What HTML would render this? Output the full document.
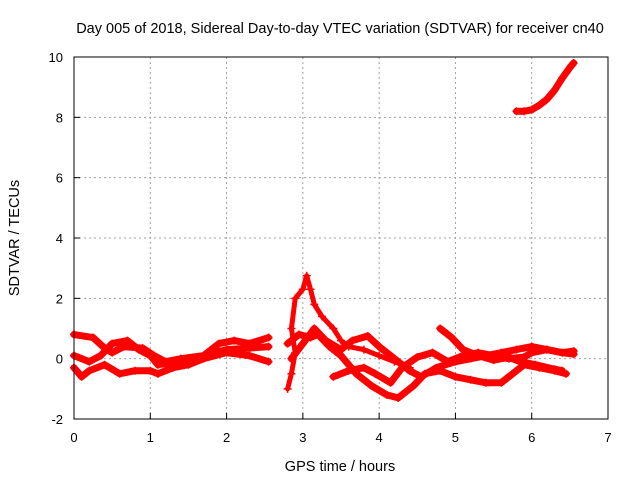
<!DOCTYPE html>
<html><head><meta charset="utf-8"><style>
body{margin:0;background:#fff}
svg{display:block;font-family:"Liberation Sans",sans-serif}
</style></head><body>
<svg id="c" width="640" height="480">
<text x="340" y="33" font-size="14.5" text-anchor="middle">Day 005 of 2018, Sidereal Day-to-day VTEC variation (SDTVAR) for receiver cn40</text>
<text x="340" y="471" font-size="14.5" text-anchor="middle">GPS time / hours</text>
<text transform="translate(19,238) rotate(-90)" font-size="14.5" text-anchor="middle">SDTVAR / TECUs</text>
<g id="grid"></g><g id="series"></g>
<rect x="74" y="57" width="534" height="362" fill="none" stroke="#000"/>
</svg>
<script>
const xTicks=[0,1,2,3,4,5,6,7];
const yTicks=[-2,0,2,4,6,8,10];
const sA=[[0,0.8],[0.25,0.7],[0.4,0.35],[0.5,0.2],[0.65,0.4],[0.9,0.35],[1.05,0.1],[1.2,-0.1],[1.4,0],[1.7,0.1],[2.0,0.3],[2.3,0.35],[2.55,0.4]];
const sB=[[0,0.1],[0.2,-0.1],[0.35,0.1],[0.5,0.5],[0.7,0.6],[0.85,0.3],[1.0,0.1],[1.1,-0.2],[1.4,-0.1],[1.7,0.1],[1.9,0.5],[2.1,0.6],[2.3,0.5],[2.55,0.7]];
const sC=[[0,-0.3],[0.1,-0.6],[0.2,-0.4],[0.4,-0.2],[0.6,-0.5],[0.8,-0.4],[1.0,-0.4],[1.1,-0.5],[1.3,-0.3],[1.5,-0.2],[1.7,0],[2.0,0.2],[2.3,0.1],[2.55,-0.1]];
const sSpike=[[2.8,-1.0],[2.85,-0.5],[2.9,0.2],[2.85,1.0],[2.9,2.0],[3.0,2.3],[3.05,2.75],[3.1,2.3],[3.15,1.8],[3.25,1.4],[3.4,1.0],[3.5,0.6],[3.6,0.4],[3.8,0.3],[4.0,0.1],[4.2,-0.1],[4.4,-0.3]];
const sD=[[2.8,0.5],[2.95,0.8],[3.1,0.7],[3.2,0.8],[3.35,0.4],[3.5,0.1],[3.7,-0.5],[3.9,-0.9],[4.1,-1.2],[4.25,-1.3],[4.45,-0.9],[4.6,-0.5],[4.8,-0.4],[5.0,-0.6],[5.2,-0.7],[5.4,-0.8],[5.6,-0.8],[5.75,-0.5],[5.9,-0.2],[6.1,-0.3],[6.3,-0.4],[6.45,-0.5]];
const sE=[[2.85,0.0],[3.0,0.5],[3.15,1.0],[3.3,0.6],[3.5,0.3],[3.65,0.6],[3.85,0.75],[4.0,0.4],[4.2,0],[4.4,-0.4],[4.55,-0.6],[4.75,-0.3],[5.0,-0.1],[5.2,0],[5.4,0.1],[5.6,0.2],[5.8,0.3],[6.0,0.4],[6.2,0.3],[6.4,0.2],[6.55,0.15]];
const sF=[[3.4,-0.6],[3.6,-0.4],[3.8,-0.3],[3.95,-0.5],[4.15,-0.8],[4.3,-0.3],[4.5,0.05],[4.7,0.2],[4.9,-0.1],[5.1,0.1],[5.3,0.2],[5.5,0.1],[5.7,0.0],[5.9,0.05],[6.0,0.2],[6.2,0.3],[6.4,0.2],[6.55,0.25]];
const sG=[[4.8,1.0],[4.95,0.7],[5.1,0.3],[5.3,0.1],[5.5,-0.05],[5.7,0.05],[5.85,-0.1],[6.05,-0.2],[6.3,-0.35],[6.4,-0.4]];
const sH=[[5.8,8.2],[5.9,8.2],[6.0,8.25],[6.1,8.4],[6.2,8.6],[6.3,8.9],[6.4,9.3],[6.5,9.65],[6.55,9.8]];
const allSeries=[sA,sB,sC,sSpike,sD,sE,sF,sG,sH];
const X=h=>74+h*534/7, Y=v=>419-(v+2)*362/12;
const NS="http://www.w3.org/2000/svg";
const g=document.getElementById('grid'), s=document.getElementById('series');
function mk(tag,at,par){const e=document.createElementNS(NS,tag);for(const k in at)e.setAttribute(k,at[k]);par.appendChild(e);return e;}
xTicks.forEach(t=>{
 if(t>0&&t<7){const l=mk('line',{x1:X(t),x2:X(t),y1:57,y2:419,stroke:'#a0a0a0','stroke-dasharray':'2,3'},g);
 
 }
 const tk=mk('line',{x1:X(t),x2:X(t),y1:419,y2:413,stroke:'#000'},g);
 
 
 const tx=mk('text',{x:X(t),y:442,'font-size':'13','text-anchor':'middle'},g);tx.textContent=t;
 
 
});
yTicks.forEach(t=>{
 if(t>-2&&t<10){const l=mk('line',{x1:74,x2:608,y1:Y(t),y2:Y(t),stroke:'#a0a0a0','stroke-dasharray':'2,3'},g);
 
 }
 const tk=mk('line',{x1:74,x2:80,y1:Y(t),y2:Y(t),stroke:'#000'},g);
 
 
 const tx=mk('text',{x:63,y:Y(t)+5,'font-size':'13','text-anchor':'end'},g);tx.textContent=t;
 
 
});
allSeries.forEach((ser,i)=>{
 const p=mk('polyline',{points:ser.map(d=>X(d[0])+','+Y(d[1])).join(' '),fill:'none',stroke:'#f00','stroke-width':i==3?5:7,'stroke-linejoin':'round','stroke-linecap':'round'},s);
 
 
 ser.forEach(d=>{
  const m=mk('path',{d:`M${X(d[0])-4},${Y(d[1])}h8M${X(d[0])},${Y(d[1])-4}v8`,stroke:'#f00','stroke-width':1.5},s);
  
  
 });
});
</script>
</body></html>
